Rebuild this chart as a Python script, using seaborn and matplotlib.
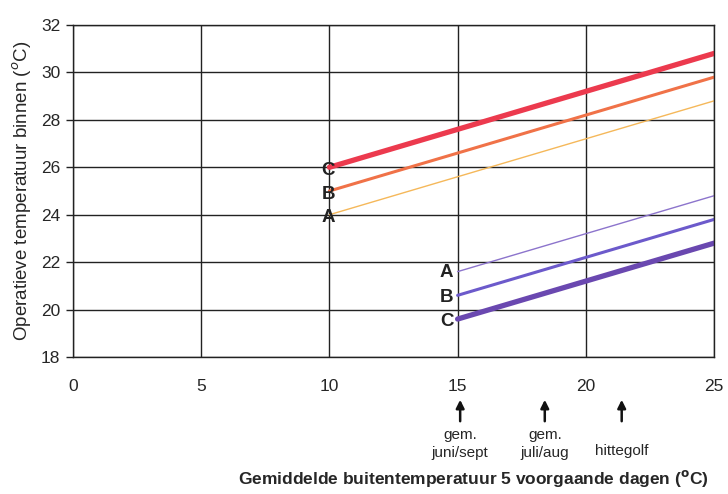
import matplotlib
matplotlib.use("Agg")
import matplotlib.pyplot as plt
import seaborn as sns
import pandas as pd

# Data
x_high = [10, 25]
high_A = [24.0, 28.8]
high_B = [25.0, 29.8]
high_C = [26.0, 30.8]
x_low = [15, 25]
low_A = [21.6, 24.8]
low_B = [20.6, 23.8]
low_C = [19.6, 22.8]
x_ticks = [0, 5, 10, 15, 20, 25]
y_ticks = [18, 20, 22, 24, 26, 28, 30, 32]
arrow_x = [15.1, 18.4, 21.4]
arrow_labels = ["gem.\njuni/sept", "gem.\njuli/aug", "hittegolf"]

sns.set_theme(style="white")
plt.rcParams['font.family'] = ['Liberation Sans', 'DejaVu Sans']

fig = plt.figure(figsize=(7.28, 4.94), dpi=100)
ax = fig.add_axes([73/728, 137/494, 641/728, 332/494])

series = [
    (x_high, high_A, "#F5B85A", 1.0),
    (x_high, high_B, "#F07248", 2.2),
    (x_high, high_C, "#EC3A4E", 3.8),
    (x_low, low_A, "#8C74CC", 1.0),
    (x_low, low_B, "#6C5ACB", 2.2),
    (x_low, low_C, "#6A48B0", 3.8),
]
for xs, ys, col, lw in series:
    df = pd.DataFrame({"x": xs, "y": ys})
    sns.lineplot(data=df, x="x", y="y", ax=ax, color=col, linewidth=lw)

ax.set_xlim(0, 25)
ax.set_ylim(18, 32)
ax.set_xticks(x_ticks)
ax.set_yticks(y_ticks)
ax.grid(True, color="#222222", linewidth=1.0)
for s in ax.spines.values():
    s.set_color("#222222")
    s.set_linewidth(1.0)
ax.tick_params(axis="y", left=True, length=5, width=1, color="#222222", labelsize=12.5, pad=4)
ax.tick_params(axis="x", bottom=False, labelsize=12.5, pad=10)
ax.set_xlabel("")
ax.set_ylabel(r"Operatieve temperatuur binnen ($^{o}$C)", fontsize=13.5, labelpad=5)

# Curve labels
for x, y, t in [(9.95, 25.88, "C"), (9.95, 24.87, "B"), (9.95, 23.9, "A"),
                (14.57, 21.58, "A"), (14.57, 20.52, "B"), (14.57, 19.5, "C")]:
    ax.text(x, y, t, fontsize=13.5, fontweight="bold", ha="center", va="center", color="#222222")

# Arrows and notes below axis
for xa, lab in zip(arrow_x, arrow_labels):
    ax.annotate("", xy=(xa, 97), xytext=(xa, 70), xycoords=("data", "figure pixels"),
                textcoords=("data", "figure pixels"),
                arrowprops=dict(arrowstyle="-|>", color="#111111", lw=1.8, mutation_scale=12),
                annotation_clip=False)
    if "\n" in lab:
        ax.annotate(lab, xy=(xa, 50), xycoords=("data", "figure pixels"), ha="center",
                    va="center", fontsize=11, linespacing=1.3, annotation_clip=False)
    else:
        ax.annotate(lab, xy=(xa, 43), xycoords=("data", "figure pixels"), ha="center",
                    va="center", fontsize=11, annotation_clip=False)

fig.text(473/728, 16/494, r"Gemiddelde buitentemperatuur 5 voorgaande dagen ($^{\mathbf{o}}$C)",
         ha="center", va="center", fontsize=12.5, fontweight="bold")

fig.savefig("out.png", dpi=100)
